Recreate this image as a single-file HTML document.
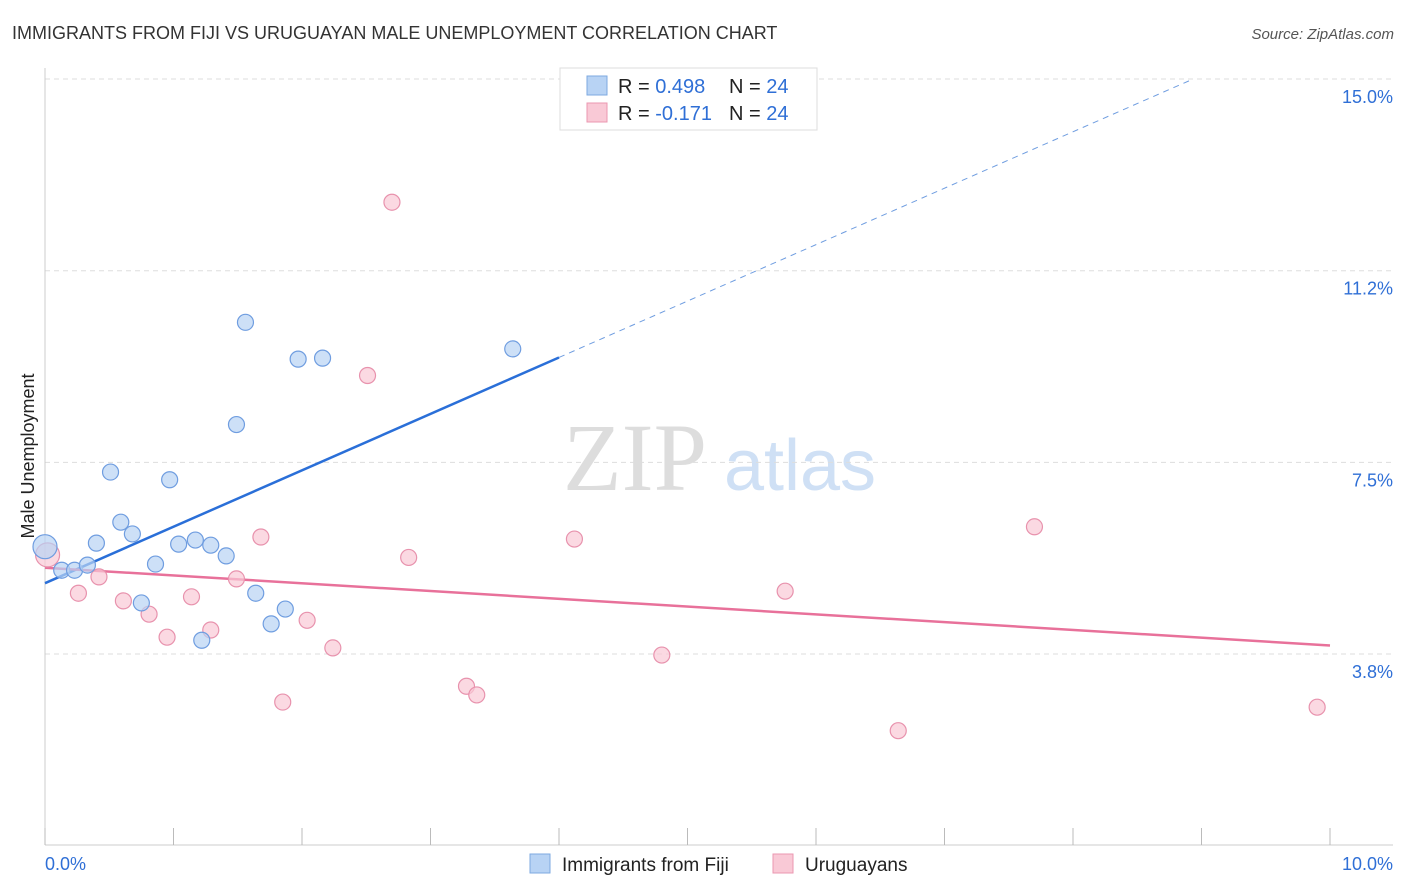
<!DOCTYPE html>
<html><head><meta charset="utf-8"><style>
body{margin:0;background:#fff;font-family:"Liberation Sans",sans-serif;}
svg{display:block}
</style></head><body>
<svg id="chart" width="1406" height="892" xmlns="http://www.w3.org/2000/svg">
<text x="12" y="39" font-size="18" fill="#333">IMMIGRANTS FROM FIJI VS URUGUAYAN MALE UNEMPLOYMENT CORRELATION CHART</text>
<text x="1394" y="39" font-size="15" font-style="italic" fill="#555" text-anchor="end">Source: ZipAtlas.com</text>
<text x="34" y="456" font-size="18" fill="#222" text-anchor="middle" transform="rotate(-90 34 456)">Male Unemployment</text>
<g><text x="635" y="490" font-size="96" font-family="Liberation Serif,serif" fill="#ddd" text-anchor="middle">ZIP</text><text x="800" y="490" font-size="72" fill="#cfe0f5" text-anchor="middle">atlas</text></g>
<g id="grid"></g><g id="axes"></g><g id="trends"></g><g id="points"></g>
<g>
<rect x="560" y="68" width="257" height="62" fill="#fff" stroke="#ddd"/>
<rect x="587" y="76" width="20" height="19" fill="#b8d3f4" stroke="#7ea9e0"/>
<rect x="587" y="103" width="20" height="19" fill="#f9c9d6" stroke="#eb97b0"/>
<text x="618" y="93" font-size="20" fill="#222">R = <tspan fill="#2f6fd6">0.498</tspan><tspan x="729">N = </tspan><tspan fill="#2f6fd6">24</tspan></text>
<text x="618" y="120" font-size="20" fill="#222">R = <tspan fill="#2f6fd6">-0.171</tspan><tspan x="729">N = </tspan><tspan fill="#2f6fd6">24</tspan></text>
</g>
<g>
<rect x="530" y="854" width="20" height="19" fill="#b8d3f4" stroke="#7ea9e0"/>
<text x="562" y="871" font-size="19" fill="#222">Immigrants from Fiji</text>
<rect x="773" y="854" width="20" height="19" fill="#f9c9d6" stroke="#eb97b0"/>
<text x="805" y="871" font-size="19" fill="#222">Uruguayans</text>
</g>
</svg>
<script>
const yTicks=[3.75,7.5,11.25,15];
const yTickLabels=["3.8%","7.5%","11.2%","15.0%"];
const xTickLabels=["0.0%","10.0%"];
const fijiX=[0,0.13,0.23,0.33,0.40,0.51,0.59,0.68,0.75,0.86,0.97,1.04,1.17,1.22,1.29,1.41,1.49,1.56,1.64,1.76,1.87,1.97,2.16,3.64];
const fijiY=[5.85,5.39,5.39,5.49,5.92,7.31,6.33,6.10,4.75,5.51,7.16,5.90,5.98,4.02,5.88,5.67,8.24,10.24,4.94,4.34,4.63,9.52,9.54,9.72];
const uruX=[0.02,0.26,0.42,0.61,0.81,0.95,1.14,1.29,1.49,1.68,1.85,2.04,2.24,2.51,2.70,2.83,3.28,3.36,4.12,4.80,5.76,6.64,7.70,9.90];
const uruY=[5.69,4.94,5.26,4.79,4.53,4.08,4.87,4.22,5.22,6.04,2.81,4.41,3.87,9.20,12.59,5.64,3.12,2.95,6.00,3.73,4.98,2.25,6.24,2.71];
const NS="http://www.w3.org/2000/svg";
const X=v=>45+v*128.5, Y=v=>845.7-v*51.11;
function mk(t,a,p){const e=document.createElementNS(NS,t);for(const k in a)e.setAttribute(k,a[k]);document.getElementById(p).appendChild(e);return e;}
yTicks.forEach((t,i)=>{
 const g=mk('line',{x1:45,x2:1393,y1:Y(t),y2:Y(t),stroke:'#ddd','stroke-dasharray':'5,4'},'grid');
 
 
 const l=mk('text',{x:1393,y:Y(t)+24,'font-size':18,fill:'#2f6fd6','text-anchor':'end'},'axes');l.textContent=yTickLabels[i];
 
 
});
const ax=mk('line',{x1:45,x2:45,y1:68,y2:845,stroke:'#ccc'},'axes');


const bx=mk('line',{x1:45,x2:1393,y1:845,y2:845,stroke:'#ccc'},'axes');


for(let i=0;i<=10;i++){const t=mk('line',{x1:X(i),x2:X(i),y1:828,y2:845,stroke:'#bbb'},'axes');
 
 }
[[0,'start',45],[10,'end',1393]].forEach((d,i)=>{const l=mk('text',{x:d[2],y:870,'font-size':18,fill:'#2f6fd6','text-anchor':d[1]},'axes');l.textContent=xTickLabels[i];
 
 });
function reg(xs,ys){const n=xs.length,mx=xs.reduce((a,b)=>a+b)/n,my=ys.reduce((a,b)=>a+b)/n;let sxy=0,sxx=0;xs.forEach((x,i)=>{sxy+=(x-mx)*(ys[i]-my);sxx+=(x-mx)**2});const b=sxy/sxx;return [my-b*mx,b];}
const [ba,bb]=reg(fijiX,fijiY);
let l1=mk('line',{x1:X(0),y1:Y(ba),x2:X(4),y2:Y(ba+bb*4),stroke:'#2a6fd8','stroke-width':2.5},'trends');


const xe=Math.min(10,(15-ba)/bb);
let l2=mk('line',{x1:X(4),y1:Y(ba+bb*4),x2:X(xe),y2:Y(ba+bb*xe),stroke:'#6f9de0','stroke-width':1,'stroke-dasharray':'6,5'},'trends');


const [pa,pb]=reg(uruX,uruY);
let l3=mk('line',{x1:X(0),y1:Y(pa),x2:X(10),y2:Y(pa+pb*10),stroke:'#e8719a','stroke-width':2.5},'trends');


function pts(xs,ys,fill,stroke,name){xs.forEach((x,i)=>{const c=mk('circle',{cx:X(x),cy:Y(ys[i]),r:i===0?12:8,fill:fill,'fill-opacity':0.7,stroke:stroke,'stroke-width':1.2},'points');
 
 });}
pts(uruX,uruY,'#f9c9d6','#e892ad','uruguayan-point');
pts(fijiX,fijiY,'#b8d3f4','#6f9de0','fiji-point');
</script>
</body></html>
